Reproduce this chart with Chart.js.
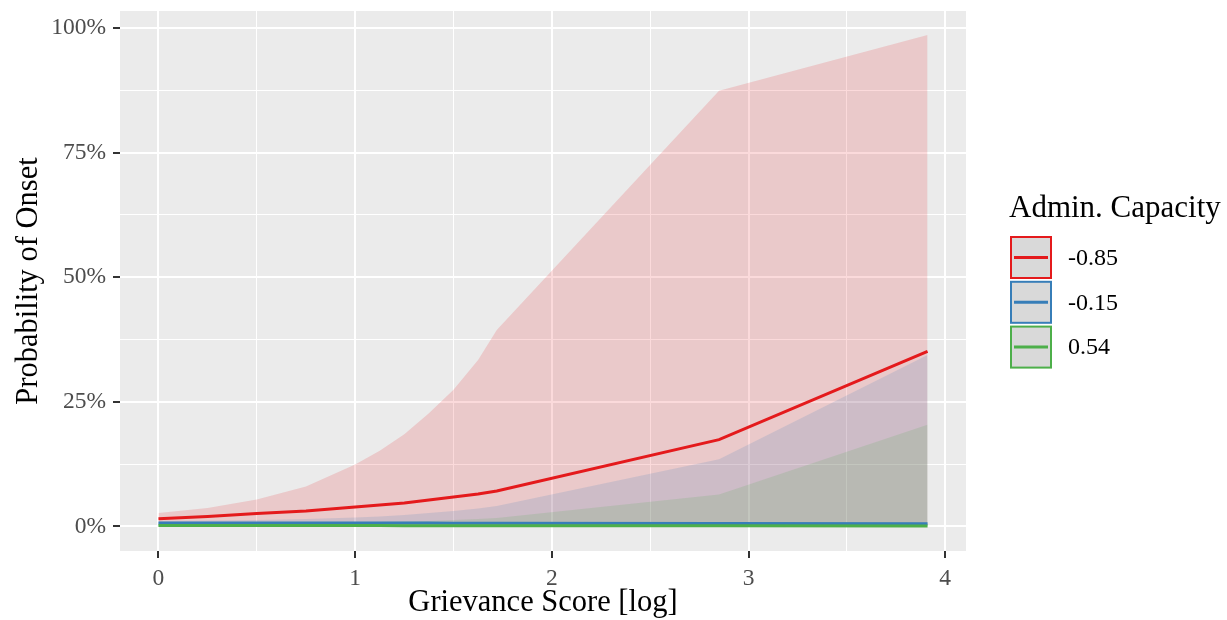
<!DOCTYPE html>
<html>
<head>
<meta charset="utf-8">
<script src="https://cdn.jsdelivr.net/npm/chart.js@4"></script>
<style>
  html, body { margin: 0; padding: 0; background: #fff; }
  #wrap { width: 1227px; height: 620px; }
</style>
</head>
<body>
<div id="wrap"><canvas id="onsetChart" width="1227" height="620"></canvas></div>
<script>
// grievance score (log) positions
const grievance = [0, 0.25, 0.5, 0.75, 1, 1.125, 1.25, 1.375, 1.5, 1.625, 1.72, 2.85, 3.91];

// admin. capacity = -0.85
const redMean  = [0.0154, 0.020, 0.026, 0.031, 0.039, 0.043, 0.047, 0.053, 0.059, 0.065, 0.071, 0.174, 0.351];
const redUpper = [0.027, 0.037, 0.054, 0.080, 0.124, 0.152, 0.185, 0.227, 0.274, 0.334, 0.394, 0.874, 0.986];
const redLower = [0.002, 0.002, 0.002, 0.002, 0.002, 0.002, 0.002, 0.002, 0.002, 0.002, 0.002, 0.002, 0.002];

// admin. capacity = -0.15
const blueMean  = [0.007, 0.007, 0.007, 0.007, 0.007, 0.0069, 0.0068, 0.0067, 0.0066, 0.0065, 0.0064, 0.006, 0.0054];
const blueUpper = [0.011, 0.012, 0.013, 0.015, 0.018, 0.020, 0.023, 0.027, 0.031, 0.036, 0.041, 0.135, 0.344];
const blueLower = [0.001, 0.001, 0.001, 0.001, 0.001, 0.001, 0.001, 0.001, 0.001, 0.001, 0.001, 0.001, 0.001];

// admin. capacity = 0.54
const greenMean  = [0.002, 0.002, 0.002, 0.002, 0.0018, 0.0017, 0.0016, 0.0015, 0.0015, 0.0014, 0.0014, 0.0012, 0.001];
const greenUpper = [0.004, 0.005, 0.006, 0.007, 0.008, 0.009, 0.010, 0.011, 0.013, 0.015, 0.017, 0.064, 0.204];
const greenLower = [0, 0, 0, 0, 0, 0, 0, 0, 0, 0, 0, 0, 0];

const xTicks = [0, 0.5, 1, 1.5, 2, 2.5, 3, 3.5, 4];
const yTicks = [0, 0.125, 0.25, 0.375, 0.5, 0.625, 0.75, 0.875, 1];

const groups = ['-0.85', '-0.15', '0.54'];
const colors = ['#E41A1C', '#377EB8', '#4DAF4A'];
const fills = ['rgba(228,26,28,0.16)', 'rgba(55,126,184,0.16)', 'rgba(77,175,74,0.16)'];

const serif = '"Liberation Serif", "DejaVu Serif", serif';

function pts(ys) {
  return grievance.map((x, i) => ({ x: x, y: ys[i] }));
}

function lineSet(label, ys, color, order) {
  return {
    label: label,
    data: pts(ys),
    borderColor: color,
    borderWidth: 3,
    pointRadius: 0,
    tension: 0,
    fill: false,
    order: order
  };
}

function bandSet(label, ys, fillColor, fillTo, order) {
  return {
    label: label,
    data: pts(ys),
    borderWidth: 0,
    borderColor: 'rgba(0,0,0,0)',
    backgroundColor: fillColor,
    pointRadius: 0,
    tension: 0,
    fill: fillTo,
    order: order
  };
}

function isMajorY(v) {
  return Math.abs((v * 4) % 1) < 1e-9;
}

// panel background, like ggplot's grey theme
const panelBg = {
  id: 'panelBg',
  beforeDraw(chart) {
    const { ctx, chartArea: a } = chart;
    ctx.save();
    ctx.fillStyle = '#EBEBEB';
    ctx.fillRect(a.left, a.top, a.right - a.left, a.bottom - a.top);
    ctx.restore();
  }
};

// legend drawn on the right side
const sideLegend = {
  id: 'sideLegend',
  afterDraw(chart) {
    const ctx = chart.ctx;
    ctx.save();
    ctx.fillStyle = '#000';
    ctx.font = '31px ' + serif;
    ctx.textBaseline = 'middle';
    ctx.textAlign = 'left';
    ctx.fillText('Admin. Capacity', 1009, 209);

    const keyX = 1011, keyW = 40, keyH = 41, top0 = 237, gap = 44.8;
    groups.forEach((g, i) => {
      const y = top0 + i * gap;
      ctx.fillStyle = '#D9D9D9';
      ctx.fillRect(keyX, y, keyW, keyH);
      ctx.strokeStyle = colors[i];
      ctx.lineWidth = 2;
      ctx.strokeRect(keyX, y, keyW, keyH);
      ctx.beginPath();
      ctx.moveTo(keyX + 3, y + keyH / 2);
      ctx.lineTo(keyX + keyW - 3, y + keyH / 2);
      ctx.lineWidth = 3;
      ctx.stroke();
      ctx.fillStyle = '#000';
      ctx.font = '24px ' + serif;
      ctx.fillText(g, 1068, y + keyH / 2 + 1);
    });
    ctx.restore();
  }
};

const ctx = document.getElementById('onsetChart').getContext('2d');
new Chart(ctx, {
  type: 'line',
  data: {
    datasets: [
      lineSet('-0.85', redMean, colors[0], 3),
      lineSet('-0.15', blueMean, colors[1], 2),
      lineSet('0.54', greenMean, colors[2], 1),
      bandSet('red upper', redUpper, fills[0], '+1', 10),
      bandSet('red lower', redLower, fills[0], false, 10),
      bandSet('blue upper', blueUpper, fills[1], '+1', 9),
      bandSet('blue lower', blueLower, fills[1], false, 9),
      bandSet('green upper', greenUpper, fills[2], '+1', 8),
      bandSet('green lower', greenLower, fills[2], false, 8)
    ]
  },
  options: {
    responsive: false,
    animation: false,
    layout: { padding: { top: 11, right: 261, left: 0, bottom: 0 } },
    plugins: {
      legend: { display: false },
      tooltip: { enabled: false },
      filler: { propagate: false }
    },
    scales: {
      x: {
        type: 'linear',
        min: -0.1955,
        max: 4.1055,
        afterBuildTicks: axis => { axis.ticks = xTicks.map(v => ({ value: v })); },
        afterFit: axis => {
          axis.height = 69;
          axis.paddingLeft = 0;
          axis.paddingRight = 0;
        },
        border: { display: false },
        grid: {
          color: '#FFFFFF',
          lineWidth: c => (c.tick && c.tick.value % 1 === 0 ? 2 : 1),
          tickColor: c => (c.tick && c.tick.value % 1 === 0 ? '#333333' : 'rgba(0,0,0,0)'),
          tickWidth: 2,
          tickLength: 7
        },
        ticks: {
          autoSkip: false,
          maxRotation: 0,
          padding: 7,
          color: '#4D4D4D',
          font: { family: serif, size: 23.5 },
          callback: v => (v % 1 === 0 ? String(v) : '')
        },
        title: {
          display: true,
          text: 'Grievance Score [log]',
          color: '#000',
          font: { family: serif, size: 30.5, lineHeight: 1.1 },
          padding: { top: 0, bottom: 0 }
        }
      },
      y: {
        type: 'linear',
        min: -0.0493,
        max: 1.034,
        afterBuildTicks: axis => { axis.ticks = yTicks.map(v => ({ value: v })); },
        afterFit: axis => {
          axis.width = 120;
          axis.paddingTop = 0;
          axis.paddingBottom = 0;
        },
        border: { display: false },
        grid: {
          color: '#FFFFFF',
          lineWidth: c => (c.tick && isMajorY(c.tick.value) ? 2 : 1),
          tickColor: c => (c.tick && isMajorY(c.tick.value) ? '#333333' : 'rgba(0,0,0,0)'),
          tickWidth: 2,
          tickLength: 7
        },
        ticks: {
          autoSkip: false,
          padding: 7,
          color: '#4D4D4D',
          font: { family: serif, size: 23.5 },
          callback: v => (isMajorY(v) ? Math.round(v * 100) + '%' : '')
        },
        title: {
          display: true,
          text: 'Probability of Onset',
          color: '#000',
          font: { family: serif, size: 30.5 },
          padding: { top: 11, bottom: 0 }
        }
      }
    }
  },
  plugins: [panelBg, sideLegend]
});
</script>
</body>
</html>
